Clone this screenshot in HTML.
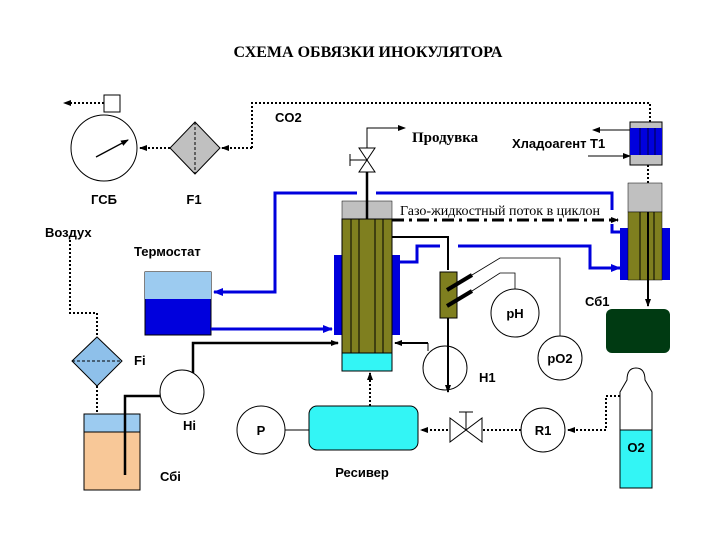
<!DOCTYPE html>
<html><head><meta charset="utf-8"><style>
body{margin:0;background:#fff}
svg{display:block}
.s{font-family:"Liberation Sans",sans-serif;font-weight:bold;font-size:13px}
.r{font-family:"Liberation Serif",serif}
</style></head><body>
<svg width="720" height="540" viewBox="0 0 720 540" xmlns="http://www.w3.org/2000/svg">
<defs>
<marker id="a" markerWidth="8" markerHeight="8" refX="7" refY="4" orient="auto" markerUnits="userSpaceOnUse"><path d="M0,1 L8,4 L0,7z" fill="#000"/></marker>
<marker id="b" markerWidth="10" markerHeight="10" refX="9" refY="5" orient="auto" markerUnits="userSpaceOnUse"><path d="M0,1 L10,5 L0,9z" fill="#0000dd"/></marker>
</defs>
<text x="368" y="57" text-anchor="middle" class="r" font-weight="bold" font-size="16">СХЕМА  ОБВЯЗКИ  ИНОКУЛЯТОРА</text>

<g fill="none" stroke="#000" stroke-width="2" stroke-dasharray="2,2">
<path d="M104,103 H64" marker-end="url(#a)"/>
<path d="M170,148 H140" marker-end="url(#a)"/>
<path d="M252,148 H222" marker-end="url(#a)"/>
<path d="M252,148 V103 H650 V122"/>
<path d="M648,165 V183"/>
<path d="M70,240 V313 H97 V337"/>
<path d="M97,386 V414"/>
<path d="M620,396 H606 V430 H568" marker-end="url(#a)"/>
<path d="M521,430 H482"/>
<path d="M448,430 H421" marker-end="url(#a)"/>
<path d="M370,406 V373" marker-end="url(#a)"/>
</g>

<!-- GSB -->
<rect x="104" y="95" width="16" height="17" fill="#fff" stroke="#000"/>
<circle cx="104" cy="148" r="33" fill="#fff" stroke="#000"/>
<path d="M96,157 L128,140" stroke="#000" stroke-width="1.3" marker-end="url(#a)"/>
<text x="104" y="204" text-anchor="middle" class="s">ГСБ</text>
<!-- F1 -->
<path d="M195,122 L220,148 L195,174 L170,148z" fill="#c0c0c0" stroke="#000"/>
<path d="M195,122 V174" stroke="#000" stroke-dasharray="3,2"/>
<text x="194" y="204" text-anchor="middle" class="s">F1</text>
<text x="275" y="122" class="s">CO2</text>
<text x="45" y="237" class="s">Воздух</text>
<text x="134" y="256" class="s">Термостат</text>

<!-- Fi -->
<path d="M97,337 L122,361 L97,386 L72,361z" fill="#8ec0ea" stroke="#000"/>
<path d="M72,361 H122" stroke="#000" stroke-dasharray="3,2"/>
<text x="134" y="365" class="s">Fi</text>
<!-- Sbi -->
<rect x="84" y="414" width="56" height="76" fill="#f8c898" stroke="#000"/>
<rect x="84" y="414" width="56" height="18" fill="#9ccbf0" stroke="#000"/>
<path d="M125,475 V396 H180" fill="none" stroke="#000" stroke-width="2.5" marker-end="url(#a)"/>
<text x="160" y="481" class="s">Сбi</text>
<!-- Hi pump -->
<circle cx="182" cy="392" r="22" fill="#fff" stroke="#000"/>
<path d="M193,373 V343 H338" fill="none" stroke="#000" stroke-width="2.5" marker-end="url(#a)"/>
<text x="183" y="430" class="s">Hi</text>

<!-- thermostat -->
<rect x="145" y="272" width="66" height="63" fill="#0000dd" stroke="#000"/>
<rect x="145" y="272" width="66" height="27" fill="#9ccbf0"/>
<g fill="none" stroke="#0000dd" stroke-width="3">
<path d="M357,193 H275 V292 H214" marker-end="url(#b)"/>
<path d="M211,329 H332" marker-end="url(#b)"/>
<path d="M400,262 H417 V246 H440"/>
<path d="M458,246 H590 V268 H620" marker-end="url(#b)"/>
<path d="M376,193 H612 V210"/>
<path d="M612,224 V232 H622"/>
</g>

<!-- reactor -->
<rect x="334" y="255" width="8" height="80" fill="#0000dd"/>
<rect x="392" y="255" width="8" height="80" fill="#0000dd"/>
<rect x="342" y="201" width="50" height="18" fill="#c0c0c0" stroke="#000" stroke-width=".5"/>
<rect x="342" y="219" width="50" height="134" fill="#7f7f1f" stroke="#000"/>
<rect x="342" y="353" width="50" height="18" fill="#33f5f5" stroke="#000"/>
<g stroke="#000"><path d="M351,219V353M359,219V353M375,219V353M383,219V353"/></g>
<path d="M367,219 V172" stroke="#000" stroke-width="2.5"/>
<path d="M359,148 L375,148 L367,160 L375,172 L359,172 L367,160z" fill="#fff" stroke="#000"/>
<path d="M367,160 H350 M350,154 V166" stroke="#000"/>
<path d="M367,148 V128 H405" fill="none" stroke="#000" marker-end="url(#a)"/>
<text x="412" y="142" class="r" font-weight="bold" font-size="15">Продувка</text>
<text x="400" y="215" class="r" font-size="14">Газо-жидкостный поток в циклон</text>
<path d="M392,220 H618" stroke="#000" stroke-width="3" stroke-dasharray="12,5,3,5" marker-end="url(#a)"/>

<!-- probe line -->
<path d="M392,237 H448 V270" fill="none" stroke="#000" stroke-width="2"/>
<rect x="440" y="272" width="17" height="46" fill="#7f7f1f" stroke="#000"/>
<path d="M448,318 V390" stroke="#000" stroke-width="2" marker-end="url(#a)"/>
<path d="M447,290 L472,275 M447,306 L472,291" stroke="#000" stroke-width="4"/>
<path d="M472,275 L500,258 H560 V336 M472,291 L500,273 H515 V289" fill="none" stroke="#000" stroke-width=".8"/>
<circle cx="515" cy="313" r="24" fill="#fff" stroke="#000"/>
<text x="515" y="318" text-anchor="middle" class="s">pH</text>
<circle cx="560" cy="358" r="22" fill="#fff" stroke="#000"/>
<text x="560" y="363" text-anchor="middle" class="s">pO2</text>
<!-- H1 -->
<circle cx="445" cy="368" r="22" fill="#fff" stroke="#000"/>
<path d="M428,343 H395" stroke="#000" stroke-width="2" marker-end="url(#a)"/>
<path d="M428,343 v8" stroke="#000"/>
<path d="M448,345 V392" stroke="#000" stroke-width="2" marker-end="url(#a)"/>
<text x="479" y="382" class="s">H1</text>

<!-- T1 -->
<rect x="630" y="122" width="32" height="43" fill="#c0c0c0" stroke="#000"/>
<rect x="630" y="128" width="32" height="27" fill="#0000dd"/>
<path d="M640,128V155M648,128V155M655,128V155" stroke="#000" stroke-width=".7"/>
<path d="M630,130 H593" stroke="#000" marker-end="url(#a)"/>
<path d="M588,156 H630" stroke="#000" marker-end="url(#a)"/>
<text x="512" y="148" class="s">Хладоагент  Т1</text>
<!-- cyclone -->
<rect x="620" y="228" width="50" height="52" fill="#0000dd"/>
<rect x="628" y="183" width="34" height="29" fill="#c0c0c0" stroke="#000" stroke-width=".5"/>
<rect x="628" y="212" width="34" height="68" fill="#7f7f1f" stroke="#000" stroke-width=".5"/>
<path d="M640,212V280M654,212V280" stroke="#000"/>
<path d="M648,212 V306" stroke="#000" stroke-width="2" marker-end="url(#a)"/>
<text x="585" y="306" class="s">Сб1</text>
<rect x="606" y="309" width="64" height="44" rx="6" fill="#003a12"/>
<!-- O2 -->
<path d="M627,380 Q627,368 636,368 Q645,368 645,380 L652,392 V488 H620 V392z" fill="#fff" stroke="#000"/>
<rect x="620" y="430" width="32" height="58" fill="#33f5f5" stroke="#000"/>
<text x="636" y="452" text-anchor="middle" class="s">O2</text>
<circle cx="543" cy="430" r="22" fill="#fff" stroke="#000"/>
<text x="543" y="435" text-anchor="middle" class="s">R1</text>
<path d="M450,418 L482,442 L482,418 L450,442z" fill="#fff" stroke="#000"/>
<path d="M466,430 V412 M459,412 H473" stroke="#000"/>
<!-- receiver -->
<rect x="309" y="406" width="109" height="44" rx="8" fill="#33f5f5" stroke="#000"/>
<path d="M285,430 H309" stroke="#000"/>
<circle cx="261" cy="430" r="24" fill="#fff" stroke="#000"/>
<text x="261" y="435" text-anchor="middle" class="s">P</text>
<text x="362" y="477" text-anchor="middle" class="s">Ресивер</text>
</svg>
</body></html>
